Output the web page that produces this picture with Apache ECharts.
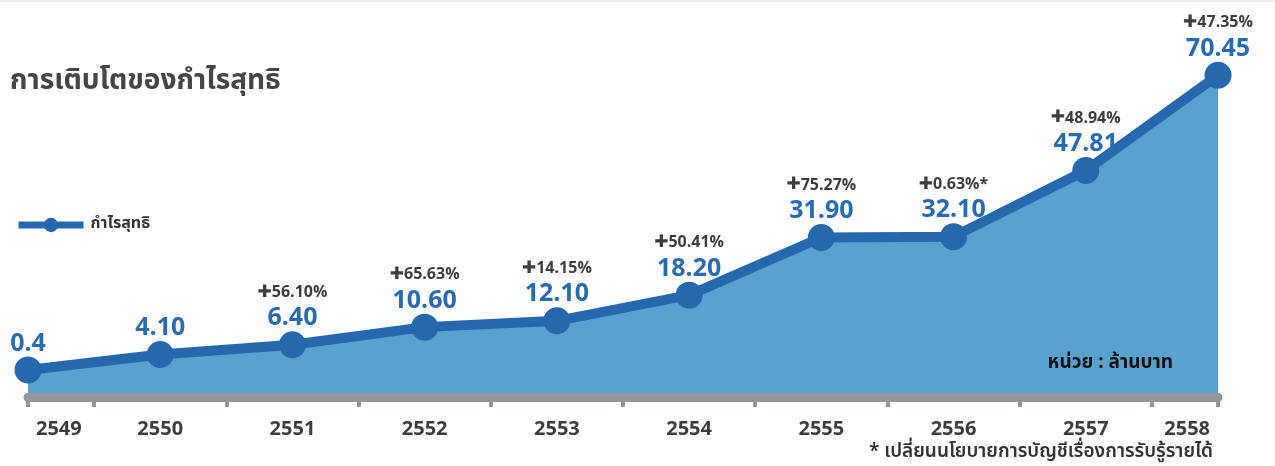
<!DOCTYPE html>
<html>
<head>
<meta charset="utf-8">
<script src="https://cdn.jsdelivr.net/npm/echarts@6/dist/echarts.min.js"></script>
<style>
html,body{margin:0;padding:0;background:#fff;}
#c{width:1275px;height:466px;}
</style>
</head>
<body>
<div id="c"></div>
<script>
const years = ['2549','2550','2551','2552','2553','2554','2555','2556','2557','2558'];
const profit = [0.4, 4.10, 6.40, 10.60, 12.10, 18.20, 31.90, 32.10, 47.81, 70.45];
const valueLabels = ['0.4','4.10','6.40','10.60','12.10','18.20','31.90','32.10','47.81','70.45'];
const growthLabels = ['', '', '56.10%', '65.63%', '14.15%', '50.41%', '75.27%', '0.63%*', '48.94%', '47.35%'];
const tickPositions = [0, 0.5, 1.5, 2.5, 3.5, 4.5, 5.5, 6.5, 7.5, 8.5, 9];

const thaiFont = '"Noto Sans Thai", "Noto Sans Thai UI", "Noto Sans", "DejaVu Sans", sans-serif';
const numFont = '"Open Sans", "Noto Sans", sans-serif';

const chart = echarts.init(document.getElementById('c'), null, {renderer: 'canvas'});
chart.setOption({
  animation: false,
  backgroundColor: '#ffffff',
  title: {
    text: 'การเติบโตของกำไรสุทธิ',
    left: 5, top: 64,
    textStyle: {fontFamily: thaiFont, fontSize: 28, fontWeight: 'bold', color: '#454545'}
  },
  legend: {
    left: 10, top: 212,
    itemWidth: 65, itemHeight: 18,
    itemGap: 8,
    textStyle: {fontFamily: thaiFont, fontSize: 16, fontWeight: 'bold', color: '#333', padding: [0, 0, 0, 2]},
    lineStyle: {width: 7},
    itemStyle: {color: '#2668ad'},
    data: ['กำไรสุทธิ']
  },
  grid: {left: 28, right: 57, top: 35, bottom: 69, containLabel: false},
  xAxis: [{
    type: 'category',
    data: years,
    boundaryGap: false,
    axisLine: {show: true, onZero: false, lineStyle: {color: '#939598', width: 9}},
    axisTick: {show: false},
    axisLabel: {
      color: '#3d3d3d', fontFamily: numFont, fontSize: 20, fontWeight: 'bold',
      margin: 22, alignMinLabel: 'left', alignMaxLabel: 'right',
      padding: [0, 8, 0, 8]
    },
    splitLine: {show: false},
    z: 5
  }, {
    type: 'value',
    position: 'bottom',
    min: 0, max: 9,
    axisLine: {show: false, onZero: false},
    axisLabel: {show: false},
    splitLine: {show: false},
    axisTick: {show: true, customValues: tickPositions, length: 10, lineStyle: {color: '#939598', width: 4}},
    z: 4
  }],
  yAxis: {
    type: 'value', min: -6, max: 80,
    show: false,
    splitLine: {show: false}
  },
  series: [{
    name: 'กำไรสุทธิ',
    type: 'line',
    data: profit,
    symbol: 'circle',
    symbolSize: 27,
    lineStyle: {color: '#2668ad', width: 10},
    itemStyle: {color: '#2668ad'},
    areaStyle: {color: '#59a2d0', opacity: 1, origin: 'start'},
    z: 3,
    label: {
      show: true,
      position: 'top',
      distance: -1,
      formatter: function (p) {
        const g = growthLabels[p.dataIndex];
        const v = valueLabels[p.dataIndex];
        return g ? '{p|✚}{g|' + g + '}\n{v|' + v + '}' : '{v|' + v + '}';
      },
      rich: {
        p: {fontFamily: '"DejaVu Sans", sans-serif', fontSize: 17, fontWeight: 'bold', color: '#3d3d3d', lineHeight: 24},
        g: {fontFamily: numFont, fontSize: 16, fontWeight: 'bold', color: '#3d3d3d', lineHeight: 24},
        v: {fontFamily: numFont, fontSize: 25, fontWeight: 'bold', color: '#2a6bb0', lineHeight: 28}
      }
    }
  }],
  graphic: [
    {type: 'rect', left: 0, top: 0, shape: {width: 1275, height: 2}, style: {fill: '#ececec'}},
    {type: 'text', right: 102, top: 355, z: 10,
     style: {text: 'หน่วย : ล้านบาท', font: 'bold 19px ' + thaiFont, fill: '#111'}},
    {type: 'text', right: 62, top: 444, z: 10,
     style: {text: '* เปลี่ยนนโยบายการบัญชีเรื่องการรับรู้รายได้', font: '600 19px ' + thaiFont, fill: '#333'}}
  ]
});
</script>
</body>
</html>
